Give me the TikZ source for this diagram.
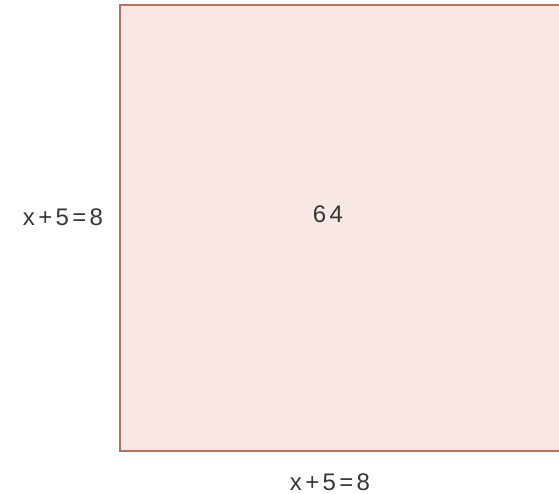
\documentclass[tikz,border=0pt]{standalone}
\usepackage{fontspec}
\setmainfont{Liberation Sans}
\usetikzlibrary{positioning}
\definecolor{sqfill}{RGB}{249,231,229}
\definecolor{sqline}{RGB}{184,112,88}
\definecolor{txtgray}{RGB}{55,55,55}
\begin{document}
\begin{tikzpicture}[
  x=1pt, y=-1pt,
  square/.style={draw=sqline, fill=sqfill, line width=2pt},
  lbl/.style={font=\fontsize{24}{27}\selectfont\addfontfeature{LetterSpace=14}, text=txtgray, inner sep=0pt},
]
\useasboundingbox (0,0) rectangle (559,494);

% === Square ===
\coordinate (sqtl) at (120,5);
\coordinate (sqbr) at (575,451);
\draw[square] (sqtl) rectangle (sqbr);

% === Labels ===
\node[lbl] (area) at (328,214) {64};
\node[lbl] (side) at (63,217) {x+5=8};
\node[lbl] (base) at (330,482) {x+5=8};

\end{tikzpicture}
\end{document}
